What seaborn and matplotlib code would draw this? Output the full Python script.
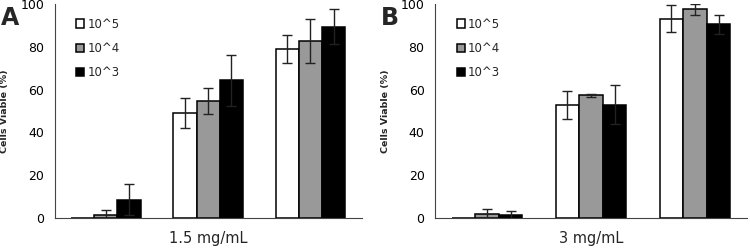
import matplotlib
matplotlib.use("Agg")
import matplotlib.pyplot as plt
import pandas as pd
import seaborn as sns

groups = ["1", "2", "3"]
doses = ["10^5", "10^4", "10^3"]
colors = ["white", "#999999", "black"]

# panel A, 1.5 mg/mL
a_vals = {"10^5": [0.0, 49.0, 79.0], "10^4": [1.5, 54.5, 82.7], "10^3": [8.6, 64.3, 89.4]}
a_errs = {"10^5": [0.0, 6.9, 6.4], "10^4": [2.1, 6.1, 10.1], "10^3": [7.4, 12.0, 8.1]}

# panel B, 3 mg/mL
b_vals = {"10^5": [0.0, 52.8, 93.1], "10^4": [1.8, 57.3, 97.5], "10^3": [1.3, 53.0, 90.5]}
b_errs = {"10^5": [0.0, 6.4, 6.4], "10^4": [2.3, 0.8, 2.5], "10^3": [2.2, 9.0, 4.4]}


def mk_df(vals, errs):
    dic = {"group": [], "dose": [], "viable": [], "err": []}
    for d in doses:
        for g, v, e in zip(groups, vals[d], errs[d]):
            dic["group"].append(g)
            dic["dose"].append(d)
            dic["viable"].append(v)
            dic["err"].append(e)
    return pd.DataFrame(data=dic)


def panel(ax, df, xlabel, letter):
    sns.barplot(data=df, x="group", y="viable", hue="dose", order=groups,
                hue_order=doses, palette=colors, width=0.68, gap=0,
                edgecolor="black", linewidth=1.1, errorbar=None, ax=ax)
    for cont, d in zip(ax.containers, doses):
        errs = df[df["dose"] == d]["err"].tolist()
        for bar, e in zip(cont, errs):
            if e > 0:
                ax.errorbar(bar.get_x() + bar.get_width() / 2, bar.get_height(),
                            yerr=e, fmt="none", ecolor="#222222",
                            elinewidth=1, capsize=3.5, capthick=1)
    ax.set_xlim(-0.5, 2.5)
    ax.set_ylim(0, 100)
    ax.set_yticks([0, 20, 40, 60, 80, 100])
    ax.set_xticks([-0.5, 0.5, 1.5, 2.5])
    ax.set_xticklabels([])
    ax.tick_params(axis="both", direction="out", length=4, width=0.8,
                   labelsize=9, colors="#333333", labelcolor="black")
    ax.tick_params(axis="x", pad=0)
    ax.spines["top"].set_visible(False)
    ax.spines["right"].set_visible(False)
    ax.spines["left"].set_color("#444444")
    ax.spines["bottom"].set_color("#444444")
    ax.set_xlabel(xlabel, fontsize=10.5, labelpad=5)
    ax.set_ylabel("Cells Viable (%)", fontsize=6.8, fontweight="bold", labelpad=8)
    leg = ax.legend(loc="upper left", bbox_to_anchor=(0.035, 0.985), frameon=False,
                    handlelength=0.7, handleheight=0.75, handletextpad=0.25,
                    labelspacing=0.95, fontsize=8.5)
    for h in leg.legend_handles:
        h.set_linewidth(1.1)
    ax.text(-0.175, 0.99, letter, transform=ax.transAxes, fontsize=17,
            fontweight="bold", va="top", ha="left")


sns.set_style("white")
plt.rcParams["font.family"] = ["DejaVu Sans"]
fig = plt.figure(figsize=(7.5, 2.5), dpi=100)
ax1 = fig.add_axes([0.073, 0.128, 0.409, 0.856])
ax2 = fig.add_axes([0.58, 0.128, 0.416, 0.856])
panel(ax1, mk_df(a_vals, a_errs), "1.5 mg/mL", "A")
panel(ax2, mk_df(b_vals, b_errs), "3 mg/mL", "B")
plt.savefig("out.png", dpi=100)
